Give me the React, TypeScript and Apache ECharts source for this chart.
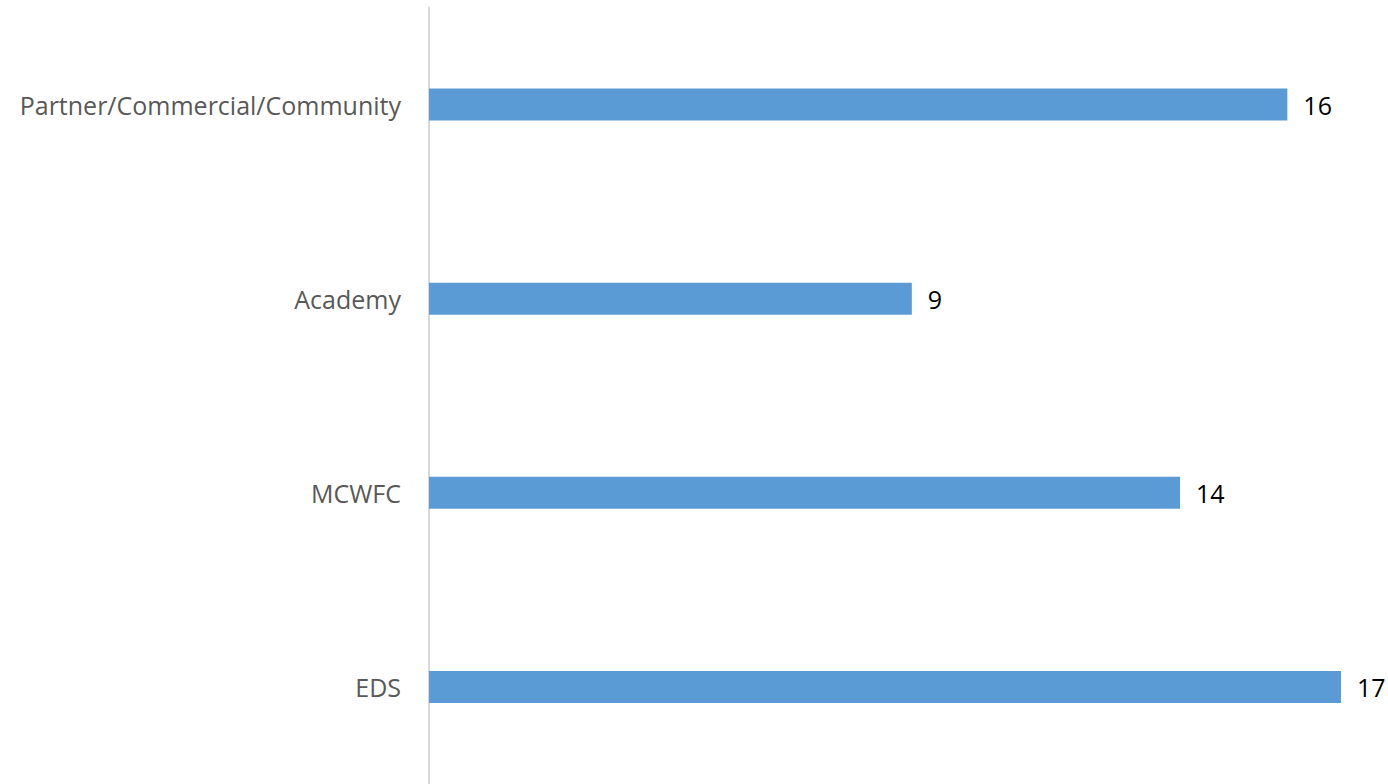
import React, { useEffect, useRef } from "react";
import * as echarts from "echarts";

const categories = ["Partner/Commercial/Community", "Academy", "MCWFC", "EDS"];
const values = [16, 9, 14, 17];

export default function App() {
  const ref = useRef<HTMLDivElement>(null);
  useEffect(() => {
    if (!ref.current) return;
    const chart = echarts.init(ref.current, undefined, { renderer: "svg" });
    chart.setOption({
      animation: false,
      backgroundColor: "#ffffff",
      grid: { left: 429, top: 7.5, width: 912, height: 780, containLabel: false },
      xAxis: {
        type: "value",
        min: 0,
        max: 17,
        show: false,
      },
      yAxis: {
        type: "category",
        data: categories,
        inverse: true,
        axisLine: { show: true, lineStyle: { color: "#d9d9d9", width: 2 } },
        axisTick: { show: false },
        axisLabel: {
          color: "#595959",
          fontSize: 25,
          fontFamily: "Open Sans",
          margin: 28,
        },
      },
      series: [
        {
          type: "bar",
          data: values,
          barWidth: 32,
          itemStyle: { color: "#5b9bd5" },
          label: {
            show: true,
            position: "right",
            distance: 16,
            color: "#000000",
            fontSize: 25,
            fontFamily: "Open Sans",
          },
        },
      ],
    });
    return () => chart.dispose();
  }, []);
  return (
    <div
      ref={ref}
      style={{ position: "absolute", left: 0, top: 0, width: 1388, height: 784 }}
    />
  );
}
